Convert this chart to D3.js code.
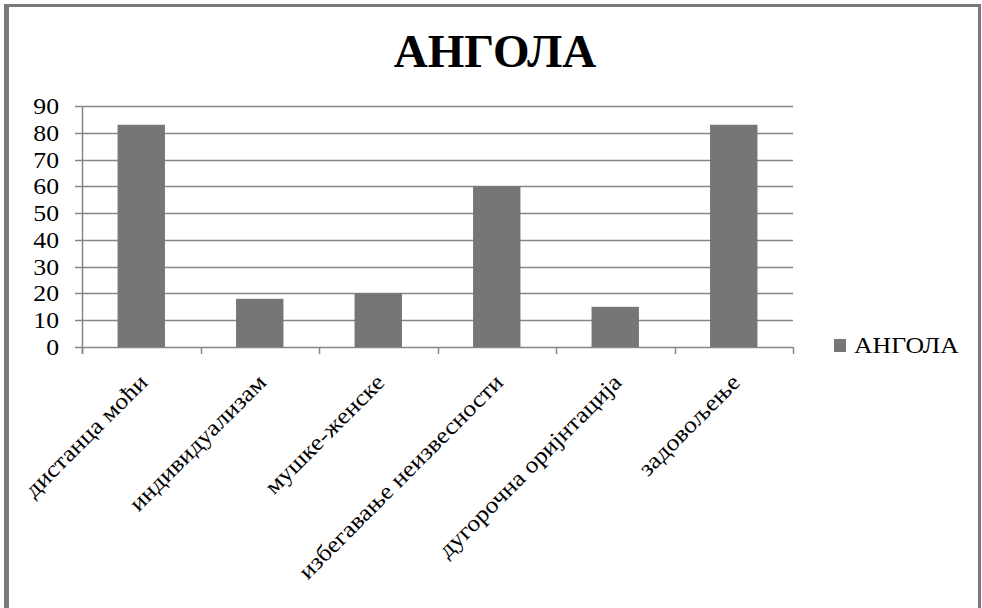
<!DOCTYPE html>
<html>
<head>
<meta charset="utf-8">
<script src="https://cdn.jsdelivr.net/npm/d3@7"></script>
<style>
  body { margin: 0; background: #fff; }
</style>
</head>
<body>
<div id="chart"></div>
<script>
const title = 'АНГОЛА';
const seriesName = 'АНГОЛА';
const categories = [
  'дистанца моћи',
  'индивидуализам',
  'мушке-женске',
  'избегавање неизвесности',
  'дугорочна оријнтација',
  'задовољење',
];
const values = [83, 18, 20, 60, 15, 83];
const yTicks = [0, 10, 20, 30, 40, 50, 60, 70, 80, 90];

const W = 982;
const H = 608;
const plot = { left: 82, right: 793, top: 106, bottom: 347 };
const FONT = '"Liberation Serif", "Times New Roman", serif';
const stretch = 1.12; // small text in the source is drawn a bit wide

const svg = d3.select('#chart').append('svg')
  .attr('width', W)
  .attr('height', H)
  .style('font-family', FONT);

svg.append('rect')
  .attr('width', W).attr('height', H)
  .attr('fill', '#fff');

// chart border
svg.append('rect')
  .attr('x', 5.5).attr('y', 5.5)
  .attr('width', 974).attr('height', H + 20)
  .attr('fill', 'none')
  .attr('stroke', '#7a7a7a')
  .attr('stroke-width', 3);
svg.append('rect')
  .attr('x', 4).attr('y', 4)
  .attr('width', 5).attr('height', H)
  .attr('fill', '#7a7a7a');

const x = d3.scaleBand()
  .domain(categories)
  .range([plot.left, plot.right])
  .paddingInner(0.6)
  .paddingOuter(0.3);

const xTicks = d3.scaleBand()
  .domain(categories)
  .range([plot.left, plot.right]);

const y = d3.scaleLinear()
  .domain([0, 90])
  .range([plot.bottom, plot.top]);

// gridlines
svg.append('g')
  .selectAll('line')
  .data(yTicks)
  .enter().append('line')
  .attr('x1', plot.left - 7)
  .attr('x2', plot.right)
  .attr('y1', d => Math.round(y(d)) + 0.5)
  .attr('y2', d => Math.round(y(d)) + 0.5)
  .attr('stroke', '#868686')
  .attr('stroke-width', 1.5);

// y tick labels
svg.append('g')
  .selectAll('text')
  .data(yTicks)
  .enter().append('text')
  .attr('transform', d => `translate(59,${y(d)}) scale(${stretch},1)`)
  .attr('dy', '0.35em')
  .attr('text-anchor', 'end')
  .attr('font-size', 23)
  .text(d => d);

// bars
svg.append('g')
  .selectAll('rect')
  .data(values)
  .enter().append('rect')
  .attr('x', (d, i) => x(categories[i]))
  .attr('width', x.bandwidth())
  .attr('y', d => y(d))
  .attr('height', d => y(0) - y(d))
  .attr('fill', '#767676');

// y axis line
svg.append('line')
  .attr('x1', plot.left + 0.5).attr('x2', plot.left + 0.5)
  .attr('y1', plot.top).attr('y2', plot.bottom + 7)
  .attr('stroke', '#868686').attr('stroke-width', 1.5);

// x ticks between categories
const edges = categories.map(c => xTicks(c)).concat([plot.right]);
svg.append('g')
  .selectAll('line')
  .data(edges)
  .enter().append('line')
  .attr('x1', d => Math.round(d) + 0.5)
  .attr('x2', d => Math.round(d) + 0.5)
  .attr('y1', plot.bottom)
  .attr('y2', plot.bottom + 7)
  .attr('stroke', '#868686')
  .attr('stroke-width', 1.5);

// category labels
svg.append('g')
  .selectAll('text')
  .data(categories)
  .enter().append('text')
  .attr('text-anchor', 'end')
  .attr('dy', '0.35em')
  .attr('font-size', 23)
  .attr('transform', d => `translate(${xTicks(d) + xTicks.bandwidth() / 2 + 2},${plot.bottom + 31}) rotate(-45) scale(${stretch},1)`)
  .text(d => d);

// title
svg.append('text')
  .attr('x', 495)
  .attr('y', 67)
  .attr('text-anchor', 'middle')
  .attr('font-size', 47)
  .attr('font-weight', 'bold')
  .text(title);

// legend
const legend = svg.append('g').attr('transform', 'translate(834,339)');
legend.append('rect')
  .attr('width', 12).attr('height', 13)
  .attr('fill', '#767676');
legend.append('text')
  .attr('transform', `translate(20,14) scale(${stretch},1)`)
  .attr('font-size', 23)
  .text(seriesName);
</script>
</body>
</html>
